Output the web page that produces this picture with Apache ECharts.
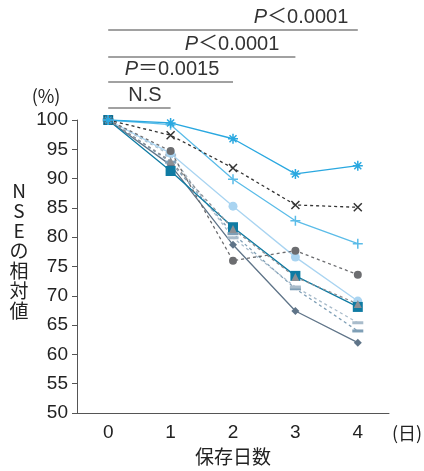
<!DOCTYPE html>
<html><head><meta charset="utf-8">
<script src="https://cdn.jsdelivr.net/npm/echarts@6/dist/echarts.min.js"></script>
<style>html,body{margin:0;padding:0;background:#fff}#c{width:424px;height:471px}</style>
</head><body><div id="c"></div>
<script>
const days = ['0','1','2','3','4'];
const yTicks = [50,55,60,65,70,75,80,85,90,95,100];
const sStar = [100, 99.5, 96.8, 90.8, 92.2];
const sCross = [100, 97.4, 91.8, 85.5, 85.1];
const sPlus = [100, 99.2, 89.9, 82.8, 78.9];
const sLightCircle = [100, 94.3, 85.3, 76.6, 69.1];
const sGrayCircle = [100, 94.7, 76.0, 77.7, 73.6];
const sSquare = [100, 91.3, 81.7, 73.4, 68.1];
const sTriangle = [100, 93.0, 81.4, 73.2, 68.6];
const sLightDash = [100, 94.0, 79.9, 71.5, 65.4];
const sBlueDash = [100, 92.8, 80.6, 71.2, 64.0];
const sDiamond = [100, 92.3, 78.7, 67.4, 62.0];
const brackets = [
  {from:0, to:4, label:'{i|P}＜0.0001'},
  {from:0, to:3, label:'{i|P}＜0.0001'},
  {from:0, to:2, label:'{i|P}＝0.0015'},
  {from:0, to:1, label:'N.S'}
];

const FONT = '"Liberation Sans", "Noto Sans CJK JP", sans-serif';
const JP = '"Noto Sans CJK JP", sans-serif';
const chart = echarts.init(document.getElementById('c'));
const starPath = 'path://M0,5L10,5M5,0L5,10M1.5,1.5L8.5,8.5M8.5,1.5L1.5,8.5';
const crossPath = 'path://M0,0L10,10M10,0L0,10';
const plusPath = 'path://M0,5L10,5M5,0L5,10';

function mk(name, data, color, opts) {
  return Object.assign({
    name, type:'line', data, symbol:'circle', symbolSize:8,
    lineStyle:{color, width:1.3, type:'solid'},
    itemStyle:{color},
    z:2
  }, opts || {});
}
function strokeSym(name, data, color, path, size, dashed) {
  return mk(name, data, color, {
    symbol: path, symbolSize: size,
    lineStyle:{color, width:1.3, type: dashed ? [3,3] : 'solid'},
    itemStyle:{color:'rgba(0,0,0,0)', borderColor: color, borderWidth:1.5}
  });
}

const series = [
  mk('diamond', sDiamond, '#5f7488', {symbol:'diamond', symbolSize:8}),
  mk('blueDash', sBlueDash, '#7f9fb6', {symbol:'rect', symbolSize:[11,3], lineStyle:{color:'#7f9fb6', width:1.3, type:[3,3]}}),
  mk('lightDash', sLightDash, '#a9bccb', {symbol:'rect', symbolSize:[11,3], lineStyle:{color:'#a9bccb', width:1.3, type:[3,3]}}),
  mk('lightCircle', sLightCircle, '#a9d4f1', {symbol:'circle', symbolSize:9}),
  mk('square', sSquare, '#0f7ba3', {symbol:'rect', symbolSize:10}),
  mk('triangle', sTriangle, '#8c8f94', {symbol:'triangle', symbolSize:8, lineStyle:{color:'#8c8f94', width:1.3, type:[3,3]}}),
  mk('grayCircle', sGrayCircle, '#6c6d70', {symbol:'circle', symbolSize:8, lineStyle:{color:'#6c6d70', width:1.3, type:[3,3]}}),
  strokeSym('plus', sPlus, '#5bbce8', plusPath, 10, false),
  strokeSym('cross', sCross, '#333333', crossPath, 8, true),
  strokeSym('star', sStar, '#2aa8e0', starPath, 10, false)
];

chart.setOption({
  animation:false,
  textStyle:{fontFamily:FONT},
  grid:{left:77, top:120, width:312, height:293, containLabel:false, outerBoundsMode:'none'},
  xAxis:{
    type:'category', data:days, boundaryGap:true,
    axisLine:{lineStyle:{color:'#555', width:1}},
    axisTick:{alignWithLabel:true, length:5, lineStyle:{color:'#555'}},
    axisLabel:{fontSize:19, color:'#222', margin:10, fontFamily:FONT},
    name:'保存日数', nameLocation:'middle', nameGap:33,
    nameTextStyle:{fontSize:19, color:'#222', fontFamily:JP}
  },
  yAxis:{
    type:'value', min:50, max:100, interval:5,
    axisLine:{show:true, lineStyle:{color:'#555', width:1}},
    axisTick:{show:true, length:5, lineStyle:{color:'#555'}},
    splitLine:{show:false},
    axisLabel:{fontSize:19, color:'#222', margin:9, fontFamily:FONT, customValues: yTicks}
  },
  series
});

const g = [];
const lineYs = [30, 57, 82, 108];
const textCx = [301, 232, 172, 145];
brackets.forEach((b, i) => {
  const x1 = chart.convertToPixel({xAxisIndex:0}, b.from);
  const x2 = chart.convertToPixel({xAxisIndex:0}, b.to);
  const y = lineYs[i];
  g.push({type:'line', shape:{x1, y1:y, x2, y2:y}, style:{stroke:'#444', lineWidth:1.2}});
  g.push({type:'text', x:textCx[i], y:y - 3,
    style:{text:b.label, fill:'#333', font:'20px ' + FONT, align:'center', verticalAlign:'bottom',
      rich:{i:{fontStyle:'italic', fontSize:20, fontFamily:FONT, fill:'#333'}}}});
});
g.push({type:'text', x:46, y:96, style:{text:'(%)', fill:'#222', font:'18px ' + JP, align:'center', verticalAlign:'middle'}});
g.push({type:'text', x:407, y:433, style:{text:'(日)', fill:'#222', font:'18px ' + JP, align:'center', verticalAlign:'middle'}});
g.push({type:'text', x:19, y:251, style:{text:'N\nS\nE\nの\n相\n対\n値', fill:'#222', font:'19px ' + JP, lineHeight:20, align:'center', verticalAlign:'middle'}});
chart.setOption({graphic:g});
</script>
</body></html>
